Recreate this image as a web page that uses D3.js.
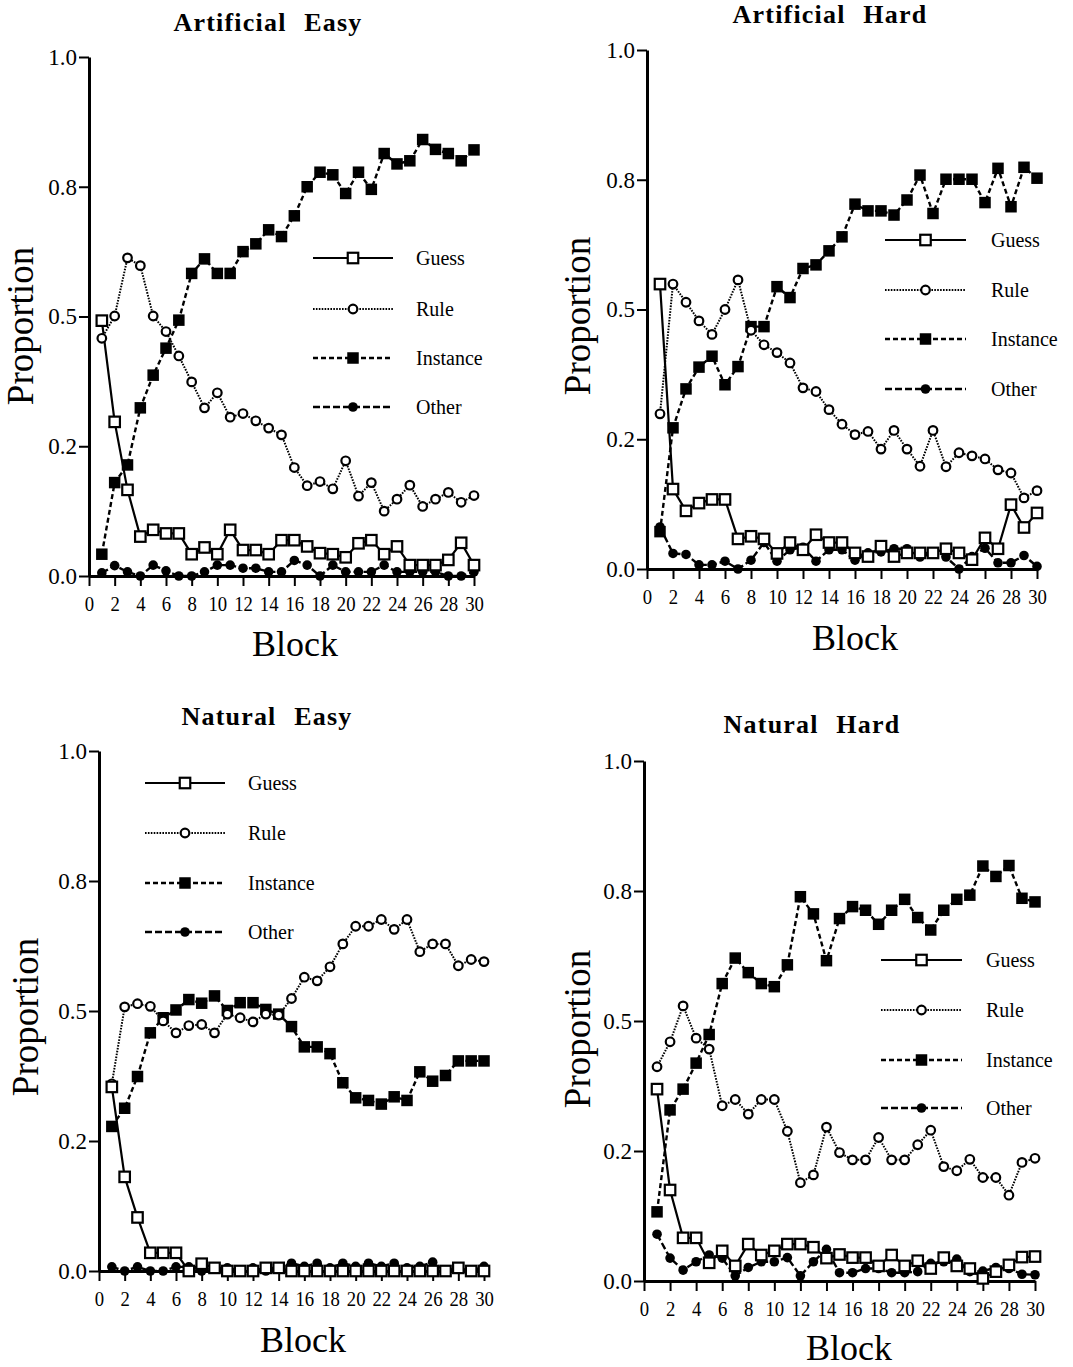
<!DOCTYPE html>
<html>
<head>
<meta charset="utf-8">
<script src="https://cdn.jsdelivr.net/npm/d3@7"></script>
<style>
  body { margin: 0; background: #fff; }
  svg { display: block; font-family: "Liberation Serif", "Times New Roman", serif; }
</style>
</head>
<body>
<svg id="chart" width="1073" height="1367"></svg>
<script>
// ---- data ----
const blocks = [1,2,3,4,5,6,7,8,9,10,11,12,13,14,15,16,17,18,19,20,21,22,23,24,25,26,27,28,29,30];
const xTicks = [0,2,4,6,8,10,12,14,16,18,20,22,24,26,28,30];
const yTicks = [0, 0.25, 0.5, 0.75, 1];
const yTickLabels = ["0.0", "0.2", "0.5", "0.8", "1.0"];
const seriesNames = ["Guess", "Rule", "Instance", "Other"];
const panelTitles = ["Artificial Easy", "Artificial Hard", "Natural Easy", "Natural Hard"];

const artEasyGuess = [0.492,0.297,0.166,0.076,0.089,0.082,0.082,0.042,0.055,0.042,0.089,0.050,0.050,0.042,0.069,0.069,0.057,0.044,0.042,0.036,0.063,0.069,0.042,0.057,0.021,0.021,0.021,0.031,0.064,0.021];
const artEasyRule = [0.458,0.501,0.613,0.598,0.501,0.471,0.424,0.374,0.324,0.353,0.306,0.313,0.299,0.285,0.272,0.209,0.174,0.182,0.168,0.222,0.154,0.180,0.125,0.148,0.175,0.134,0.148,0.161,0.142,0.155];
const artEasyInstance = [0.042,0.180,0.214,0.324,0.387,0.439,0.493,0.583,0.611,0.583,0.583,0.625,0.640,0.667,0.654,0.694,0.750,0.778,0.773,0.737,0.778,0.745,0.814,0.794,0.800,0.841,0.822,0.814,0.800,0.821];
const artEasyOther = [0.006,0.020,0.008,0.000,0.021,0.010,0.000,0.000,0.008,0.021,0.021,0.015,0.015,0.008,0.008,0.030,0.021,0.000,0.021,0.008,0.008,0.008,0.021,0.008,0.008,0.008,0.008,0.000,0.000,0.008];

const artHardGuess = [0.549,0.154,0.112,0.127,0.134,0.134,0.058,0.063,0.058,0.030,0.051,0.037,0.066,0.051,0.051,0.031,0.024,0.044,0.024,0.031,0.031,0.031,0.039,0.031,0.018,0.060,0.039,0.124,0.080,0.108];
const artHardRule = [0.299,0.549,0.514,0.478,0.452,0.500,0.557,0.460,0.432,0.417,0.397,0.349,0.342,0.307,0.279,0.259,0.265,0.231,0.267,0.231,0.198,0.267,0.197,0.224,0.218,0.212,0.191,0.185,0.137,0.151];
const artHardInstance = [0.072,0.272,0.347,0.389,0.410,0.355,0.390,0.467,0.467,0.544,0.523,0.579,0.586,0.613,0.640,0.703,0.690,0.690,0.682,0.711,0.759,0.685,0.751,0.751,0.751,0.706,0.772,0.698,0.774,0.753];
const artHardOther = [0.081,0.030,0.028,0.008,0.008,0.015,0.000,0.017,0.051,0.015,0.037,0.042,0.015,0.037,0.037,0.017,0.031,0.033,0.039,0.039,0.023,0.030,0.023,0.000,0.024,0.040,0.012,0.012,0.026,0.005];

const natEasyGuess = [0.354,0.181,0.103,0.035,0.035,0.035,0.000,0.014,0.006,0.000,0.000,0.000,0.006,0.006,0.000,0.000,0.000,0.000,0.000,0.000,0.000,0.000,0.000,0.000,0.000,0.000,0.000,0.006,0.000,0.000];
const natEasyRule = [0.360,0.508,0.514,0.509,0.481,0.458,0.472,0.474,0.458,0.494,0.487,0.479,0.494,0.492,0.524,0.565,0.558,0.585,0.629,0.663,0.663,0.676,0.657,0.676,0.614,0.629,0.629,0.587,0.599,0.595];
const natEasyInstance = [0.278,0.313,0.374,0.458,0.487,0.502,0.522,0.515,0.529,0.501,0.516,0.516,0.503,0.494,0.470,0.431,0.431,0.418,0.362,0.333,0.328,0.321,0.335,0.328,0.383,0.365,0.376,0.404,0.404,0.404];
const natEasyOther = [0.008,0.000,0.008,0.000,0.000,0.008,0.008,0.000,0.006,0.006,0.000,0.006,0.000,0.006,0.015,0.009,0.015,0.006,0.015,0.009,0.015,0.009,0.015,0.006,0.009,0.017,0.000,0.006,0.000,0.009];

const natHardGuess = [0.369,0.175,0.083,0.083,0.035,0.058,0.029,0.071,0.050,0.058,0.071,0.071,0.065,0.044,0.051,0.045,0.045,0.029,0.050,0.029,0.039,0.024,0.045,0.029,0.024,0.005,0.018,0.031,0.046,0.047];
const natHardRule = [0.412,0.460,0.529,0.467,0.446,0.337,0.349,0.321,0.349,0.349,0.288,0.189,0.204,0.296,0.247,0.233,0.233,0.276,0.233,0.233,0.262,0.290,0.220,0.212,0.234,0.199,0.199,0.165,0.228,0.236];
const natHardInstance = [0.133,0.329,0.369,0.419,0.474,0.572,0.621,0.593,0.572,0.566,0.608,0.739,0.706,0.616,0.697,0.720,0.713,0.686,0.713,0.734,0.699,0.675,0.713,0.734,0.742,0.798,0.778,0.799,0.736,0.729];
const natHardOther = [0.090,0.044,0.021,0.037,0.050,0.044,0.010,0.026,0.037,0.037,0.045,0.010,0.037,0.061,0.016,0.016,0.024,0.024,0.016,0.016,0.018,0.034,0.037,0.042,0.018,0.019,0.026,0.024,0.013,0.012];

const panelSeries = [
  [artEasyGuess, artEasyRule, artEasyInstance, artEasyOther],
  [artHardGuess, artHardRule, artHardInstance, artHardOther],
  [natEasyGuess, natEasyRule, natEasyInstance, natEasyOther],
  [natHardGuess, natHardRule, natHardInstance, natHardOther]
];

// ---- layout and styles ----
const layout = [
  {x0: 89,  x1: 474,  y0: 576,  y1: 57,  title: [268, 31],  ylab: [33, 326],  xlab: [295, 656],  leg: {x1: 313, x2: 393, tx: 416, rows: [258, 309, 358, 407]}},
  {x0: 647, x1: 1037, y0: 569,  y1: 50,  title: [830, 23],  ylab: [590, 316], xlab: [855, 650],  leg: {x1: 885, x2: 966, tx: 991, rows: [240, 290, 339, 389]}},
  {x0: 99,  x1: 484,  y0: 1271, y1: 751, title: [267, 725], ylab: [38, 1017], xlab: [303, 1352], leg: {x1: 145, x2: 225, tx: 248, rows: [783, 833, 883, 932]}},
  {x0: 644, x1: 1035, y0: 1281, y1: 761, title: [812, 733], ylab: [590, 1029], xlab: [849, 1360], leg: {x1: 881, x2: 962, tx: 986, rows: [960, 1010, 1060, 1108]}}
];

const styles = [
  {dash: null,      width: 2.2, shape: "square", fill: "#fff", size: 10.5},
  {dash: "1.6,1.3", width: 2.0, shape: "circle", fill: "#fff", size: 4.3},
  {dash: "5,3",     width: 2.4, shape: "square", fill: "#000", size: 11.5},
  {dash: "7,3",     width: 2.4, shape: "circle", fill: "#000", size: 4.8}
];

const svg = d3.select("#chart");

function drawMarker(g, st, cx, cy) {
  if (st.shape === "square") {
    g.append("rect")
      .attr("x", cx - st.size / 2).attr("y", cy - st.size / 2)
      .attr("width", st.size).attr("height", st.size)
      .attr("fill", st.fill).attr("stroke", "#000")
      .attr("stroke-width", st.fill === "#fff" ? 2.2 : 0);
  } else {
    g.append("circle")
      .attr("cx", cx).attr("cy", cy).attr("r", st.size)
      .attr("fill", st.fill).attr("stroke", "#000")
      .attr("stroke-width", st.fill === "#fff" ? 2.2 : 0);
  }
}

layout.forEach((p, pi) => {
  const x = d3.scaleLinear().domain([0, 30]).range([p.x0, p.x1]);
  const y = d3.scaleLinear().domain([0, 1]).range([p.y0, p.y1]);
  const g = svg.append("g");

  // title
  g.append("text")
    .attr("x", p.title[0]).attr("y", p.title[1])
    .attr("text-anchor", "middle")
    .attr("font-size", 26).attr("font-weight", "bold")
    .attr("letter-spacing", 1.2).attr("word-spacing", 10)
    .text(panelTitles[pi]);

  // axes
  const xAxis = g.append("g")
    .attr("transform", `translate(0,${p.y0})`)
    .call(d3.axisBottom(x).tickValues(xTicks).tickFormat(d3.format("d"))
      .tickSize(10).tickPadding(9).tickSizeOuter(0));
  xAxis.select(".domain").attr("stroke-width", 3);
  xAxis.selectAll(".tick line").attr("stroke-width", 2);
  xAxis.selectAll(".tick text")
    .attr("font-size", 22).attr("font-family", "Liberation Serif")
    .attr("fill", "#000").attr("transform", "scale(0.85,1)");

  const yAxis = g.append("g")
    .attr("transform", `translate(${p.x0},0)`)
    .call(d3.axisLeft(y).tickValues(yTicks).tickFormat((d, i) => yTickLabels[i])
      .tickSize(10).tickPadding(2).tickSizeOuter(0));
  yAxis.select(".domain").attr("stroke-width", 3);
  yAxis.selectAll(".tick line").attr("stroke-width", 2);
  yAxis.selectAll(".tick text")
    .attr("font-size", 23).attr("font-family", "Liberation Serif").attr("fill", "#000");

  // axis labels
  g.append("text")
    .attr("transform", `translate(${p.ylab[0]},${p.ylab[1]}) rotate(-90)`)
    .attr("text-anchor", "middle").attr("font-size", 37)
    .text("Proportion");
  g.append("text")
    .attr("x", p.xlab[0]).attr("y", p.xlab[1])
    .attr("text-anchor", "middle").attr("font-size", 36)
    .text("Block");

  // lines
  const line = d3.line().x((d, i) => x(blocks[i])).y(d => y(d));
  panelSeries[pi].forEach((vals, si) => {
    const st = styles[si];
    g.append("path")
      .attr("d", line(vals))
      .attr("fill", "none").attr("stroke", "#000")
      .attr("stroke-width", st.width)
      .attr("stroke-dasharray", st.dash);
  });

  // markers: other, instance, rule, guess (guess on top)
  [3, 2, 1, 0].forEach(si => {
    const st = styles[si];
    const mg = g.append("g");
    panelSeries[pi][si].forEach((v, i) => drawMarker(mg, st, x(blocks[i]), y(v)));
  });

  // legend
  const lg = g.append("g");
  seriesNames.forEach((name, si) => {
    const st = styles[si];
    const ry = p.leg.rows[si];
    lg.append("line")
      .attr("x1", p.leg.x1).attr("x2", p.leg.x2).attr("y1", ry).attr("y2", ry)
      .attr("stroke", "#000").attr("stroke-width", st.width)
      .attr("stroke-dasharray", st.dash);
    drawMarker(lg, st, (p.leg.x1 + p.leg.x2) / 2, ry);
    lg.append("text")
      .attr("x", p.leg.tx).attr("y", ry).attr("dy", "0.35em")
      .attr("font-size", 20)
      .text(name);
  });
});
</script>
</body>
</html>
